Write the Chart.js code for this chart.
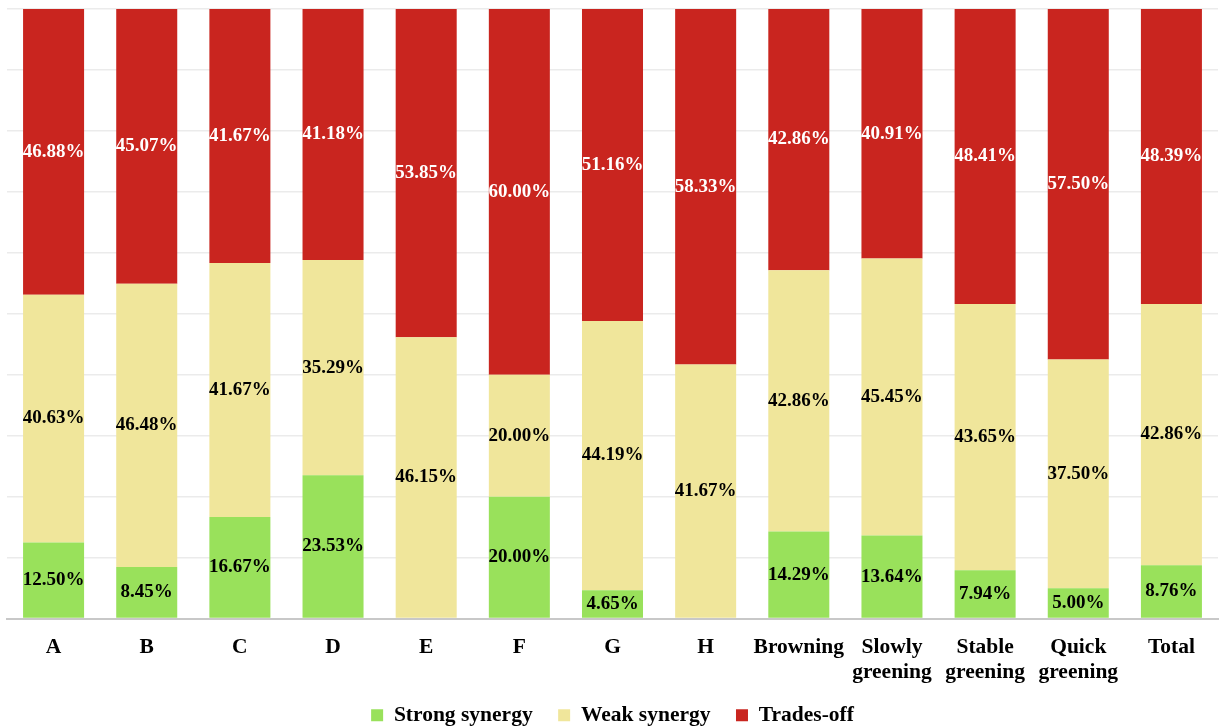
<!DOCTYPE html>
<html lang="en">
<head>
  <meta charset="UTF-8">
  <title>Synergy / trade-off shares</title>
  <style>
    html, body { margin: 0; padding: 0; background: #fff; }
    .chart-wrap { width: 1221px; height: 726px; position: relative; }
  </style>
  <script src="https://cdn.jsdelivr.net/npm/chart.js"></script>
</head>
<body>
  <div class="chart-wrap">
    <canvas id="shareChart"></canvas>
  </div>
  <script>
    // --- data (percent) ---
    const categories = ['A', 'B', 'C', 'D', 'E', 'F', 'G', 'H', 'Browning',
      ['Slowly', 'greening'], ['Stable', 'greening'], ['Quick', 'greening'], 'Total'];
    const strongSynergy = [12.50, 8.45, 16.67, 23.53, 0, 20.00, 4.65, 0, 14.29, 13.64, 7.94, 5.00, 8.76];
    const weakSynergy   = [40.63, 46.48, 41.67, 35.29, 46.15, 20.00, 44.19, 41.67, 42.86, 45.45, 43.65, 37.50, 42.86];
    const tradesOff     = [46.88, 45.07, 41.67, 41.18, 53.85, 60.00, 51.16, 58.33, 42.86, 40.91, 48.41, 57.50, 48.39];
    const seriesNames   = ['Strong synergy', 'Weak synergy', 'Trades-off'];

    const FONT = "'Liberation Serif', 'Times New Roman', serif";

    // draws the % text in the middle of each segment
    const segmentLabels = {
      id: 'segmentLabels',
      afterDatasetsDraw(chart) {
        const ctx = chart.ctx;
        ctx.save();
        ctx.font = 'bold 19px ' + FONT;
        ctx.textAlign = 'center';
        ctx.textBaseline = 'middle';
        chart.data.datasets.forEach((ds, i) => {
          const meta = chart.getDatasetMeta(i);
          meta.data.forEach((bar, j) => {
            const v = ds.data[j];
            if (!v) return;
            const p = bar.getProps(['x', 'y', 'base'], true);
            ctx.fillStyle = i === 2 ? '#ffffff' : '#000000';
            ctx.fillText(v.toFixed(2) + '%', p.x, (p.y + p.base) / 2);
          });
        });
        ctx.restore();
      }
    };

    const ctx = document.getElementById('shareChart').getContext('2d');
    new Chart(ctx, {
      type: 'bar',
      data: {
        labels: categories,
        datasets: [
          { label: seriesNames[0], data: strongSynergy, backgroundColor: '#99e15b' },
          { label: seriesNames[1], data: weakSynergy, backgroundColor: '#f0e69b' },
          { label: seriesNames[2], data: tradesOff, backgroundColor: '#c9251f' }
        ]
      },
      options: {
        responsive: true,
        maintainAspectRatio: false,
        animation: false,
        layout: { padding: { top: 9, left: 7, right: 3, bottom: -10 } },
        plugins: {
          legend: {
            position: 'bottom',
            labels: {
              boxWidth: 12,
              boxHeight: 12,
              padding: 4,
              color: '#000',
              font: { family: FONT, size: 21.5, weight: 'bold' },
              // a little extra room after the first two entries
              generateLabels(chart) {
                const items = Chart.defaults.plugins.legend.labels.generateLabels(chart);
                items.forEach((it, i) => { if (i < items.length - 1) it.text += '\u2002  '; });
                return items;
              }
            }
          },
          tooltip: { enabled: false }
        },
        datasets: { bar: { categoryPercentage: 1, barPercentage: 0.655 } },
        scales: {
          x: {
            stacked: true,
            grid: { display: false, drawTicks: false },
            border: { color: '#c8c8c8', width: 2 },
            ticks: {
              color: '#000',
              padding: 16,
              maxRotation: 0,
              autoSkip: false,
              font: { family: FONT, size: 21.5, weight: 'bold', lineHeight: 1.16 }
            }
          },
          y: {
            stacked: true,
            min: 0,
            max: 100,
            afterFit: s => { s.width = 0; },
            ticks: { display: false, stepSize: 10 },
            border: { display: false },
            grid: { color: '#ebebeb', lineWidth: 1.5, drawTicks: false }
          }
        }
      },
      plugins: [segmentLabels]
    });
  </script>
</body>
</html>
